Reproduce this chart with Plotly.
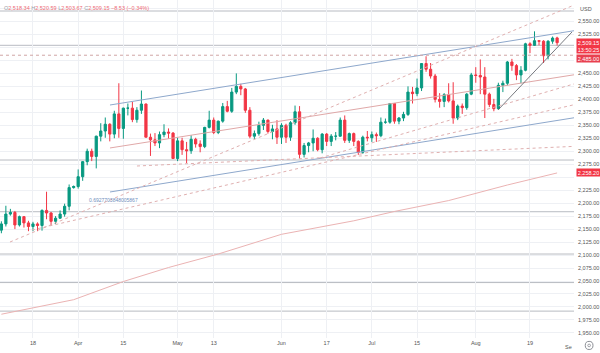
import plotly.graph_objects as go
import pandas as pd

# ---------------- data ----------------
dates = pd.bdate_range("2024-03-07", "2024-08-27")

opens = [2148, 2160, 2179, 2182, 2158, 2174, 2162, 2155, 2160, 2157,
         2186, 2181, 2165, 2171, 2179, 2194, 2230, 2232, 2251, 2280,
         2300, 2290, 2329, 2339, 2352, 2333, 2372, 2344, 2383, 2383,
         2361, 2379, 2391, 2327, 2322, 2316, 2332, 2337, 2335, 2286,
         2320, 2303, 2301, 2323, 2314, 2309, 2346, 2360, 2336, 2358,
         2386, 2377, 2414, 2425, 2420, 2379, 2329, 2334, 2350, 2360,
         2338, 2343, 2327, 2350, 2327, 2355, 2376, 2294, 2311, 2316,
         2325, 2303, 2333, 2319, 2329, 2329, 2360, 2321, 2334, 2319,
         2298, 2327, 2326, 2332, 2330, 2356, 2356, 2392, 2358, 2364,
         2371, 2414, 2411, 2422, 2469, 2458, 2445, 2400, 2396, 2409,
         2397, 2364, 2387, 2384, 2410, 2447, 2446, 2443, 2410, 2390,
         2382, 2427, 2431, 2472, 2465, 2447, 2456, 2507, 2504, 2513,
         2512, 2484, 2512, 2518.34]
highs = [2165, 2195, 2189, 2185, 2176, 2175, 2166, 2164, 2163, 2188,
         2222, 2183, 2175, 2186, 2199, 2236, 2234, 2265, 2281, 2305,
         2305, 2330, 2354, 2365, 2354, 2378, 2431, 2384, 2392, 2395,
         2385, 2417, 2392, 2334, 2335, 2338, 2352, 2344, 2337, 2326,
         2326, 2318, 2331, 2326, 2321, 2347, 2378, 2365, 2359, 2393,
         2397, 2422, 2450, 2430, 2422, 2385, 2340, 2357, 2364, 2361,
         2351, 2360, 2354, 2353, 2358, 2388, 2387, 2316, 2318, 2342,
         2327, 2335, 2335, 2333, 2337, 2365, 2369, 2336, 2336, 2321,
         2330, 2339, 2338, 2336, 2365, 2363, 2393, 2393, 2366, 2376,
         2425, 2424, 2440, 2469, 2483, 2470, 2449, 2412, 2412, 2431,
         2433, 2390, 2392, 2412, 2451, 2462, 2477, 2462, 2413, 2401,
         2432, 2436, 2474, 2478, 2468, 2464, 2509, 2510, 2531, 2514,
         2514, 2514, 2521, 2520.59]
lows = [2142, 2155, 2176, 2150, 2155, 2153, 2146, 2146, 2146, 2147,
        2169, 2157, 2160, 2170, 2174, 2186, 2228, 2228, 2243, 2273,
        2281, 2267, 2319, 2326, 2319, 2325, 2326, 2324, 2369, 2356,
        2355, 2372, 2327, 2291, 2310, 2306, 2327, 2324, 2285, 2281,
        2293, 2277, 2295, 2307, 2298, 2306, 2344, 2333, 2333, 2355,
        2375, 2374, 2410, 2408, 2374, 2325, 2323, 2330, 2341, 2334,
        2323, 2314, 2314, 2316, 2320, 2351, 2286, 2288, 2298, 2300,
        2300, 2296, 2310, 2310, 2321, 2328, 2316, 2316, 2310, 2293,
        2295, 2319, 2318, 2318, 2327, 2353, 2353, 2353, 2352, 2358,
        2368, 2392, 2406, 2416, 2453, 2440, 2394, 2384, 2385, 2394,
        2353, 2360, 2372, 2380, 2408, 2432, 2410, 2364, 2385, 2377,
        2381, 2414, 2427, 2455, 2437, 2431, 2454, 2489, 2503, 2504,
        2470, 2477, 2507, 2503.67]
closes = [2160, 2179, 2182, 2158, 2174, 2162, 2155, 2160, 2157, 2186,
          2181, 2165, 2171, 2179, 2194, 2230, 2232, 2251, 2280, 2300,
          2290, 2329, 2339, 2352, 2333, 2372, 2344, 2383, 2383, 2361,
          2379, 2391, 2327, 2322, 2316, 2332, 2337, 2335, 2286, 2320,
          2303, 2301, 2323, 2314, 2309, 2346, 2360, 2336, 2358, 2386,
          2377, 2414, 2425, 2420, 2379, 2329, 2334, 2350, 2360, 2338,
          2343, 2327, 2350, 2327, 2355, 2376, 2294, 2311, 2316, 2325,
          2303, 2333, 2319, 2329, 2329, 2360, 2321, 2334, 2319, 2298,
          2327, 2326, 2332, 2330, 2356, 2356, 2392, 2358, 2364, 2371,
          2414, 2411, 2422, 2469, 2458, 2445, 2400, 2396, 2409, 2397,
          2364, 2387, 2384, 2410, 2447, 2446, 2443, 2410, 2390, 2382,
          2427, 2431, 2472, 2465, 2447, 2456, 2507, 2504, 2513, 2512,
          2484, 2512, 2518, 2509.15]

# 200-day moving average, read at a few points (bar position, price)
ma_pos = [0, 16, 27, 37, 48, 53, 62, 78, 87, 99, 112, 123]
ma_val = [1986, 2014, 2049, 2076, 2102, 2116, 2140, 2166, 2184, 2205, 2235, 2258.2]

# time-axis labels
tick_dates = ["2024-03-18", "2024-04-01", "2024-04-15", "2024-05-01", "2024-05-13",
              "2024-06-03", "2024-06-17", "2024-07-01", "2024-07-15", "2024-08-01",
              "2024-08-19"]
tick_text = ["18", "Apr", "15", "May", "13", "Jun", "17", "Jul", "15", "Aug", "19"]

# price-axis labels
price_ticks = [1950 + 25 * i for i in range(26)]
hidden_price_ticks = [2250, 2475, 2500, 2575]

# drawn horizontal levels
h_levels_solid = [2570.2, 2504.1, 2283.1, 2183.5, 2102, 2047, 1992]
h_level_dashed = [2485]

# drawn trendlines: (bar positions, prices)
chan_upper_x, chan_upper_y = [24.04, 126.74], [2389.1, 2532.2]
chan_mid_x, chan_mid_y = [24.04, 126.74], [2306.3, 2447.3]
chan_lower_x, chan_lower_y = [24.04, 126.74], [2221.5, 2364.5]
dash1_x, dash1_y = [1.91, 126.74], [2125.1, 2581.6]
dash2_x, dash2_y = [6.78, 126.74], [2148.3, 2389.6]
dash3_x, dash3_y = [70.52, 126.74], [2287.0, 2429.7]
dash4_x, dash4_y = [30.02, 126.74], [2271.6, 2309.4]
wedge_x, wedge_y = [109.92, 126.3], [2379.5, 2529.8]
ratio_label = "0.6927703848005867"
ratio_pos, ratio_price = 18.9, 2206

header_vals = [("O", "2,518.34"), ("H", "2,520.59"), ("L", "2,503.67"), ("C", "2,509.15")]
header_change = "−8.53 (−0.34%)"

# ---------------- figure ----------------
GREEN = "#089981"
RED = "#f23645"
BLUE = "#8ea8cc"
PINK = "#e0b0b0"
GRAY = "#b8bbc2"
FONT = "Liberation Sans"

bar_pos = list(range(len(dates)))
date_index = {d.strftime("%Y-%m-%d"): i for i, d in enumerate(dates)}
tick_pos = [date_index[d] for d in tick_dates]

fig = go.Figure()

def add_line(xs, ys, color, dash=None, width=1.0):
    fig.add_trace(go.Scatter(x=xs, y=ys, mode="lines",
                             line=dict(color=color, width=width, dash=dash),
                             hoverinfo="skip"))

# MA first (behind)
add_line(ma_pos, ma_val, "#ebb3b3", width=1)

add_line(chan_upper_x, chan_upper_y, BLUE)
add_line(chan_mid_x, chan_mid_y, "#e0a8a8")
add_line(chan_lower_x, chan_lower_y, BLUE)
for xs, ys in [(dash1_x, dash1_y), (dash2_x, dash2_y), (dash3_x, dash3_y), (dash4_x, dash4_y)]:
    add_line(xs, ys, PINK, dash="3px,3px")

fig.add_trace(go.Candlestick(
    x=bar_pos, open=opens, high=highs, low=lows, close=closes,
    increasing=dict(line=dict(color=GREEN, width=1), fillcolor=GREEN),
    decreasing=dict(line=dict(color=RED, width=1), fillcolor=RED),
    whiskerwidth=0, hoverinfo="skip"))

add_line(wedge_x, wedge_y, "#55585f", width=0.8)

shapes = []
for lv in h_levels_solid:
    shapes.append(dict(type="line", xref="paper", x0=0, x1=1, yref="y", y0=lv, y1=lv,
                       line=dict(color=GRAY, width=1), layer="below"))
for lv in h_level_dashed:
    shapes.append(dict(type="line", xref="paper", x0=0, x1=1, yref="y", y0=lv, y1=lv,
                       line=dict(color="#d0a5a5", width=1, dash="3px,3px")))
# settings gear (bottom right)
shapes.append(dict(type="circle", xref="paper", yref="paper",
                   x0=1.0196, x1=1.0331, y0=-0.034, y1=-0.010,
                   line=dict(color="#8a8d94", width=1)))
shapes.append(dict(type="circle", xref="paper", yref="paper",
                   x0=1.0240, x1=1.0287, y0=-0.026, y1=-0.018,
                   line=dict(color="#8a8d94", width=0.8)))

header = " ".join(f"<span style='color:#9a9da6'>{k}</span>{v}" for k, v in header_vals) + " " + header_change

annotations = [
    dict(text=header, xref="paper", yref="paper", x=0.004, y=1, xanchor="left", yanchor="top",
         yshift=-3, showarrow=False, font=dict(family=FONT, size=5.5, color="#ee6a74")),
    dict(text="USD", xref="paper", yref="paper", x=1.007, y=1, xanchor="left", yanchor="top",
         yshift=-4, showarrow=False, font=dict(family=FONT, size=5.5, color="#555")),
    dict(text=ratio_label, x=ratio_pos, y=ratio_price, xref="x", yref="y", xanchor="left",
         yanchor="middle", showarrow=False, font=dict(family=FONT, size=5, color="#6f8fbd")),
    dict(text="2,509.15<br>13:50:25", x=1.003, y=closes[-1], xref="paper", yref="y",
         xanchor="left", yanchor="top", yshift=4.5, showarrow=False, bgcolor=RED,
         width=22, borderpad=0.5, font=dict(family=FONT, size=5.5, color="white")),
    dict(text="2,485.00", x=1.003, y=h_level_dashed[0], xref="paper", yref="y",
         xanchor="left", yanchor="middle", yshift=-3, showarrow=False, bgcolor="#e8404f",
         width=22, borderpad=0.5, font=dict(family=FONT, size=5.5, color="white")),
    dict(text=f"{ma_val[-1]:,.2f}", x=1.003, y=ma_val[-1], xref="paper", yref="y",
         xanchor="left", yanchor="middle", showarrow=False, bgcolor=RED,
         width=22, borderpad=0.5, font=dict(family=FONT, size=5.5, color="white")),
    dict(text="Se", xref="paper", yref="paper", x=1.0, y=0, xanchor="right", yanchor="top",
         yshift=-4, showarrow=False, font=dict(family=FONT, size=5.5, color="#555")),
]

fig.update_layout(
    width=600, height=353,
    margin=dict(l=0, r=26, t=0, b=15),
    paper_bgcolor="white", plot_bgcolor="white",
    showlegend=False,
    shapes=shapes, annotations=annotations,
    xaxis=dict(range=[-0.3, 126.74], tickvals=tick_pos, ticktext=tick_text,
               showgrid=True, gridcolor="#eef0f4", gridwidth=1, zeroline=False,
               ticks="", showline=False, rangeslider=dict(visible=False),
               tickfont=dict(family=FONT, size=5.5, color="#555")),
    yaxis=dict(side="right", range=[1940.2, 2591.4], tickvals=price_ticks,
               ticktext=["" if v in hidden_price_ticks else f"{v:,.2f}" for v in price_ticks],
               showgrid=True, gridcolor="#eef0f4", gridwidth=1, zeroline=False,
               ticks="", showline=False, ticklabelstandoff=3,
               tickfont=dict(family=FONT, size=5.5, color="#555")),
)

fig.write_html("out.html")
